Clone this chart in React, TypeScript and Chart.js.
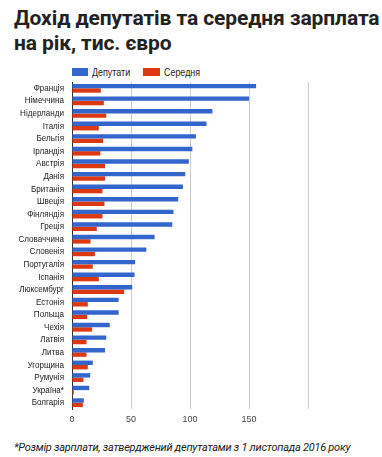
import React, { useEffect, useRef } from "react";
import { Chart, registerables } from "chart.js";

Chart.register(...registerables);

const categories = [
  "Франція", "Німеччина", "Нідерланди", "Італія", "Бельгія", "Ірландія", "Австрія",
  "Данія", "Британія", "Швеція", "Фінляндія", "Греція", "Словаччина", "Словенія",
  "Португалія", "Іспанія", "Люксембург", "Естонія", "Польща", "Чехія", "Латвія",
  "Литва", "Угорщина", "Румунія", "Україна*", "Болгарія",
];
const deputies = [
  156, 150, 119, 114, 105, 102, 99, 96, 94, 90, 86, 85, 70, 63,
  53.5, 53, 51, 39.5, 39.5, 32, 29, 28, 17.6, 15.4, 14.6, 10,
];
const average = [
  24.4, 27, 29, 22.7, 26.4, 24, 28, 28, 25.8, 27.5, 25.8, 21, 15.7, 19.4,
  17.6, 22.7, 44.2, 13.4, 12.9, 17, 12.3, 12.3, 13.4, 9.7, 1.5, 9.2,
];
const seriesNames = ["Депутати", "Середня"];
const xTicks = [0, 50, 100, 150];

const BLUE = "#3366cc";
const RED = "#dc3912";
const SQUEEZE = 0.85;

const yLabelPlugin = {
  id: "yLabels",
  afterDraw(chart: any) {
    const s = chart.scales.y;
    const ctx = chart.ctx;
    ctx.save();
    ctx.font = "9.5px 'Liberation Sans', Arial, sans-serif";
    ctx.fillStyle = "#222";
    ctx.textAlign = "right";
    ctx.textBaseline = "middle";
    s.ticks.forEach((_t: any, i: number) => {
      const y = s.getPixelForTick(i);
      ctx.save();
      ctx.translate(s.right - 8, y);
      ctx.scale(SQUEEZE, 1);
      ctx.fillText(String(chart.data.labels[i]), 0, 0);
      ctx.restore();
    });
    ctx.restore();
  },
};

export default function App() {
  const ref = useRef<HTMLCanvasElement | null>(null);
  useEffect(() => {
    if (!ref.current) return;
    const chart = new Chart(ref.current, {
      type: "bar",
      data: {
        labels: categories,
        datasets: [
          { label: seriesNames[0], data: deputies, backgroundColor: BLUE },
          { label: seriesNames[1], data: average, backgroundColor: RED },
        ],
      },
      plugins: [yLabelPlugin],
      options: {
        indexAxis: "y",
        animation: false,
        responsive: false,
        maintainAspectRatio: false,
        layout: { padding: { top: 12, right: 74, left: 0, bottom: 0 } },
        datasets: { bar: { categoryPercentage: 0.7, barPercentage: 1.0 } },
        plugins: { legend: { display: false }, tooltip: { enabled: false } },
        scales: {
          x: {
            min: 0,
            max: 200,
            ticks: {
              stepSize: 50,
              color: "#444",
              font: { family: "'Liberation Sans', Arial, sans-serif", size: 9 },
              callback: (v: any) => (xTicks.includes(Number(v)) ? String(v) : ""),
              padding: 5,
            },
            grid: {
              color: (c: any) => (c.tick && c.tick.value === 0 ? "#333" : "#cccccc"),
              drawTicks: false,
            },
            border: { display: false },
            afterFit: (s: any) => { s.height = 23; },
          },
          y: {
            ticks: { display: false, autoSkip: false },
            grid: { display: false, drawTicks: false },
            border: { display: true, color: "#333" },
            afterFit: (s: any) => { s.width = 72; },
          },
        },
      },
    });
    return () => chart.destroy();
  }, []);

  const legendText: React.CSSProperties = {
    position: "absolute",
    top: 66,
    fontFamily: "'Liberation Sans', Arial, sans-serif",
    fontSize: 10.5,
    lineHeight: "12px",
    color: "#222",
    whiteSpace: "nowrap",
    transform: `scaleX(${SQUEEZE})`,
    transformOrigin: "left center",
  };

  return (
    <div style={{ position: "absolute", left: 0, top: 0, width: 382, height: 457, background: "#fff", overflow: "hidden" }}>
      <div style={{ position: "absolute", left: 14, top: 6, fontFamily: "Roboto, sans-serif", fontWeight: 700, fontSize: 21, lineHeight: "25px", color: "#222", whiteSpace: "nowrap", letterSpacing: -0.1 }}>
        Дохід депутатів та середня зарплата<br />на рік, тис. євро
      </div>
      <span style={{ position: "absolute", left: 72, top: 68, width: 16, height: 8, background: BLUE }} />
      <span style={{ ...legendText, left: 92 }}>{seriesNames[0]}</span>
      <span style={{ position: "absolute", left: 143, top: 68, width: 17, height: 8, background: RED }} />
      <span style={{ ...legendText, left: 164 }}>{seriesNames[1]}</span>
      <canvas ref={ref} width={382} height={362} style={{ position: "absolute", left: 0, top: 70, width: 382, height: 362 }} />
      <div style={{ position: "absolute", left: 14, top: 441, fontFamily: "Roboto, sans-serif", fontStyle: "italic", fontSize: 11, color: "#222", whiteSpace: "nowrap", letterSpacing: -0.25 }}>
        *Розмір зарплати, затверджений депутатами з 1 листопада 2016 року
      </div>
    </div>
  );
}
